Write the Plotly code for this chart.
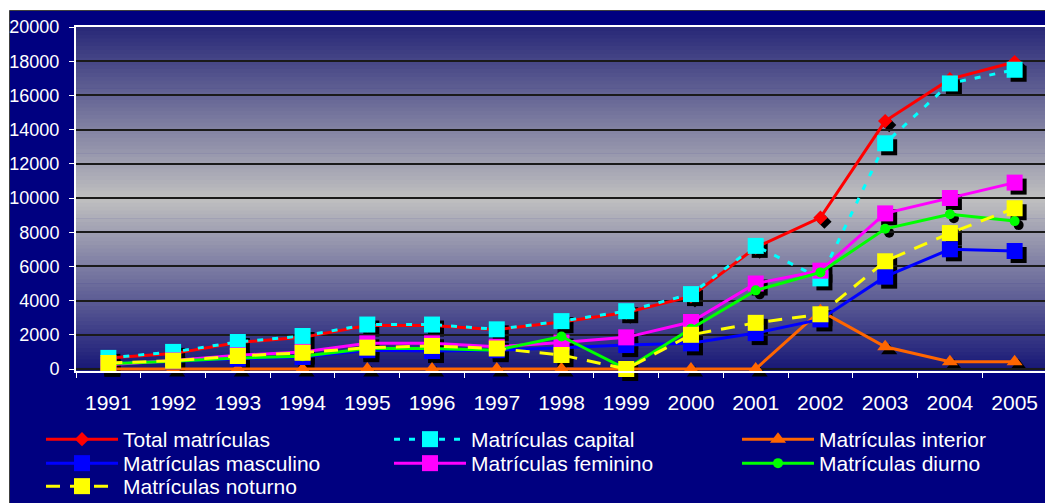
import plotly.graph_objects as go

# ---------------- data ----------------
years = [str(y) for y in range(1991, 2006)]
total = [650, 900, 1550, 1850, 2550, 2550, 2300, 2750, 3300, 4250, 7100, 8850, 14500, 16950, 17950]
capital = [650, 1000, 1580, 1930, 2600, 2600, 2320, 2800, 3380, 4380, 7200, 5300, 13200, 16700, 17500]
interior = [0, 0, 0, 0, 0, 0, 0, 0, 0, 0, 0, 3400, 1300, 420, 420]
masculino = [300, 450, 600, 700, 1100, 1050, 1100, 1250, 1400, 1500, 2100, 2900, 5400, 7000, 6900]
feminino = [250, 500, 800, 1000, 1500, 1500, 1300, 1550, 1850, 2750, 5000, 5750, 9100, 10000, 10900]
diurno = [300, 450, 650, 750, 1200, 1200, 1100, 1900, 0, 2350, 4600, 5650, 8200, 9050, 8650]
noturno = [350, 480, 760, 950, 1250, 1350, 1200, 820, 0, 2000, 2700, 3200, 6300, 7950, 9400]
y_ticks = [0, 2000, 4000, 6000, 8000, 10000, 12000, 14000, 16000, 18000, 20000]
names = ["Total matrículas", "Matrículas capital", "Matrículas interior",
         "Matrículas masculino", "Matrículas feminino", "Matrículas diurno",
         "Matrículas noturno"]

# ---------------- geometry (figure pixels; page = figure + 8 px body margin) ----------------
W, H = 1045, 495
ML, MR, MT, MB = 68, 2, 19, 127
PW = W - ML - MR          # 975
PH = H - MT - MB          # 349
SH = 4                    # shadow offset in px
YMIN, YMAX = -120, 20000
TOP_PX, ZERO_PX = 19, 361  # pixel of 20000 and of 0 (figure coords)
L = (ZERO_PX - TOP_PX) * (YMAX - YMIN) / YMAX   # axis length in px
BOT_PX = TOP_PX + L                             # bottom of the real y axis

def px_x(px):
    return (px - ML) / PW

def px_y(py):
    return (H - MB - py) / PH

FONT = "Arial, Liberation Sans, sans-serif"

styles = [
    dict(color="#FF0000", symbol="diamond", size=11, dash="solid"),
    dict(color="#00FFFF", symbol="square", size=16, dash="6px,9px"),
    dict(color="#FF6600", symbol="triangle-up", size=14, dash="solid"),
    dict(color="#0000FF", symbol="square", size=16, dash="solid"),
    dict(color="#FF00FF", symbol="square", size=16, dash="solid"),
    dict(color="#00FF00", symbol="circle", size=10, dash="solid"),
    dict(color="#FFFF00", symbol="square", size=16, dash="14px,10px"),
]
series = [total, capital, interior, masculino, feminino, diurno, noturno]
legend_of = ["legend", "legend", "legend", "legend2", "legend2", "legend2", "legend3"]

fig = go.Figure()

# shadows (drawn on the offset subplot xy, below the real one)
for vals, st in zip(series, styles):
    fig.add_trace(go.Scatter(
        x=years, y=vals, xaxis="x", yaxis="y", mode="markers",
        marker=dict(symbol=st["symbol"], size=st["size"], color="black", line=dict(width=0)),
        showlegend=False, hoverinfo="skip", cliponaxis=False))

# real series
for name, vals, st, lg in zip(names, series, styles, legend_of):
    fig.add_trace(go.Scatter(
        x=years, y=vals, xaxis="x2", yaxis="y2", mode="lines+markers", name=name,
        line=dict(color=st["color"], width=3, dash=st["dash"]),
        marker=dict(symbol=st["symbol"], size=st["size"], color=st["color"], line=dict(width=0)),
        legend=lg, cliponaxis=False))

# gradient background of the plot area
shapes = []
n = 90
x0, x1 = px_x(ML), px_x(ML + PW - SH)
y1, y0 = px_y(TOP_PX), px_y(BOT_PX)
top_c = (40, 40, 120)
mid_c = (192, 192, 192)
bot_c = (22, 22, 118)
for i in range(n):
    t = (i + 0.5) / n  # from top
    if t < 0.5:
        f = t / 0.5
        c = [top_c[k] + (mid_c[k] - top_c[k]) * f for k in range(3)]
    else:
        f = (t - 0.5) / 0.5
        c = [mid_c[k] + (bot_c[k] - mid_c[k]) * f for k in range(3)]
    ya = y1 - (y1 - y0) * i / n
    yb = y1 - (y1 - y0) * (i + 1) / n
    shapes.append(dict(type="rect", xref="paper", yref="paper", x0=x0, x1=x1,
                       y0=yb - 0.002, y1=ya, layer="below", line=dict(width=0),
                       fillcolor="rgb(%d,%d,%d)" % tuple(int(round(v)) for v in c)))

# thin white / grey frame at the top-left of the chart
shapes.append(dict(type="rect", xref="paper", yref="paper", x0=px_x(-5), x1=px_x(W + 5),
                   y0=px_y(2.5), y1=px_y(-5), layer="below", fillcolor="white",
                   line=dict(width=0)))
shapes.append(dict(type="rect", xref="paper", yref="paper", x0=px_x(-5), x1=px_x(1.5),
                   y0=px_y(H + 5), y1=px_y(-5), layer="below", fillcolor="white",
                   line=dict(width=0)))
shapes.append(dict(type="line", xref="paper", yref="paper", x0=px_x(1.5), x1=px_x(W + 5),
                   y0=px_y(2.5), y1=px_y(2.5), layer="below", line=dict(color="#404040", width=1)))
shapes.append(dict(type="line", xref="paper", yref="paper", x0=px_x(1.5), x1=px_x(1.5),
                   y0=px_y(H + 5), y1=px_y(2.5), layer="below", line=dict(color="#404040", width=1)))

leg_common = dict(orientation="h", xref="paper", yref="paper", x=px_x(33), xanchor="left",
                  yanchor="top", font=dict(family=FONT, size=21, color="white"),
                  bgcolor="rgba(0,0,0,0)", borderwidth=0, itemwidth=72,
                  entrywidth=261, entrywidthmode="pixels", traceorder="normal",
                  itemclick=False, itemdoubleclick=False)

fig.update_layout(
    width=W, height=H,
    margin=dict(l=ML, r=MR, t=MT, b=MB, autoexpand=False),
    paper_bgcolor="#000080",
    plot_bgcolor="rgba(0,0,0,0)",
    font=dict(family=FONT, color="white"),
    shapes=shapes,
    xaxis=dict(domain=[px_x(ML + SH), px_x(ML + PW)], anchor="y", type="category",
               categoryorder="array", categoryarray=years, range=[-0.5, 14.5],
               visible=False, fixedrange=True),
    yaxis=dict(domain=[px_y(BOT_PX + SH), px_y(TOP_PX + SH)], anchor="x",
               range=[YMIN, YMAX], visible=False, fixedrange=True),
    xaxis2=dict(domain=[px_x(ML), px_x(ML + PW - SH)], anchor="y2", type="category",
                categoryorder="array", categoryarray=years, range=[-0.5, 14.5],
                showline=True, linecolor="white", linewidth=2, mirror=True,
                ticks="outside", tickson="boundaries", ticklen=5, tickcolor="white",
                tickwidth=1, showgrid=False, zeroline=False,
                tickfont=dict(family=FONT, size=21, color="white"),
                ticklabelstandoff=12, fixedrange=True),
    yaxis2=dict(domain=[px_y(BOT_PX), px_y(TOP_PX)], anchor="x2", range=[YMIN, YMAX],
                tickvals=y_ticks, ticktext=[str(v) for v in y_ticks],
                showline=True, linecolor="white", linewidth=2, mirror=True,
                ticks="outside", ticklen=5, tickcolor="white", tickwidth=1,
                showgrid=True, gridcolor="#1a1a1a", gridwidth=1.5, zeroline=False,
                tickfont=dict(family=FONT, size=18, color="white"),
                ticklabelstandoff=6, fixedrange=True),
    legend=dict(leg_common, y=px_y(411)),
    legend2=dict(leg_common, y=px_y(435)),
    legend3=dict(leg_common, y=px_y(458)),
    showlegend=True,
)

fig.write_html("out.html")
